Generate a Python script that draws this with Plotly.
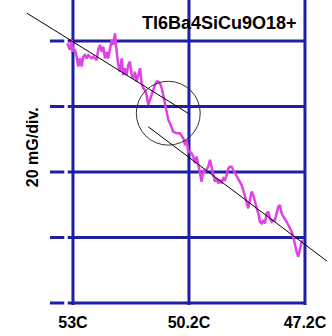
import plotly.graph_objects as go

# ---------------- data ----------------
tick_pos = [0, 1, 2]
tick_labels = ["53C", "50.2C", "47.2C"]
grid_levels = [0, 20, 40, 60, 80]          # mG, 20 mG/div

x_div = [-0.049, -0.026, -0.011, 0.003, 0.017, 0.032, 0.046, 0.060, 0.075, 0.089,
         0.103, 0.118, 0.132, 0.161, 0.175, 0.204, 0.218, 0.233, 0.247, 0.261,
         0.276, 0.291, 0.304, 0.319, 0.334, 0.347, 0.362, 0.377, 0.391, 0.405,
         0.420, 0.434, 0.448, 0.463, 0.477, 0.491, 0.506, 0.520, 0.534, 0.549,
         0.563, 0.578, 0.592, 0.606, 0.621, 0.635, 0.649, 0.664, 0.678, 0.692,
         0.707, 0.722, 0.735, 0.750, 0.765, 0.778, 0.793, 0.808, 0.822, 0.836,
         0.851, 0.865, 0.894, 0.922, 0.951, 0.966, 0.980, 0.994, 1.009, 1.023,
         1.037, 1.052, 1.066, 1.080, 1.095, 1.109, 1.123, 1.138, 1.153, 1.166,
         1.181, 1.196, 1.209, 1.224, 1.239, 1.253, 1.267, 1.282, 1.296, 1.310,
         1.325, 1.339, 1.353, 1.368, 1.382, 1.397, 1.411, 1.425, 1.440, 1.454,
         1.468, 1.483, 1.497, 1.511, 1.526, 1.540, 1.554, 1.569, 1.584, 1.598,
         1.612, 1.627, 1.641, 1.655, 1.670, 1.684, 1.698, 1.713, 1.727, 1.741,
         1.756, 1.770, 1.784, 1.799, 1.813, 1.828, 1.842, 1.856, 1.871, 1.885,
         1.899, 1.914, 1.928, 1.942, 1.957, 1.972, 1.985]
signal_mG = [79.3, 77.3, 80.3, 76.7, 77.3, 75.2, 72.2, 74.7, 72.2, 75.2,
             75.7, 74.7, 75.7, 74.7, 75.2, 74.2, 77.3, 78.8, 76.7, 78.3,
             74.7, 76.7, 74.7, 77.3, 80.3, 78.8, 82.3, 76.7, 72.7, 70.6,
             74.7, 69.6, 71.7, 69.6, 72.7, 73.7, 69.6, 68.6, 70.6, 67.6,
             70.1, 71.7, 67.1, 65.6, 65.0, 63.5, 60.5, 62.0, 64.0, 65.0,
             66.6, 67.6, 67.6, 67.1, 65.6, 63.5, 61.0, 57.9, 55.9, 54.9,
             53.3, 52.3, 51.8, 51.8, 50.3, 48.2, 49.8, 46.2, 46.2, 45.7,
             44.7, 42.7, 44.7, 41.6, 39.6, 37.0, 40.6, 40.1, 41.1, 41.6,
             43.7, 41.6, 39.1, 37.0, 38.1, 36.5, 37.6, 36.5, 38.1, 37.6,
             39.1, 41.1, 41.6, 41.6, 40.6, 39.6, 38.6, 37.6, 36.5, 36.0,
             34.5, 32.5, 30.9, 28.9, 31.5, 34.0, 33.0, 30.4, 28.9, 27.4,
             24.8, 24.3, 25.3, 24.3, 27.4, 27.9, 25.9, 24.8, 25.3, 25.3,
             27.4, 29.4, 29.9, 27.4, 26.4, 25.3, 24.8, 23.8, 22.8, 21.8,
             20.2, 17.2, 15.7, 14.1, 16.2, 18.7, 19.2]

fit_upper_x = [-0.397, 0.994]
fit_upper_y = [88.5, 57.9]
fit_lower_x = [0.649, 2.190]
fit_lower_y = [53.8, 12.8]

jump_circle_x = [0.546, 1.097]
jump_circle_y = [48.2, 67.7]

title_text = "Tl6Ba4SiCu9O18+"
y_label = "20 mG/div."

# ---------------- styles ----------------
BLUE = "#1e1ea6"
MAGENTA = "#e040e6"
FONT = "Liberation Sans, Arial, sans-serif"

x_range = [-0.629, 2.233]
y_range = [-0.61, 92.52]

fig = go.Figure()

# vertical grid lines
vx, vy = [], []
for t in tick_pos:
    vx += [t, t, None]
    vy += [-2, 100, None]
fig.add_trace(go.Scatter(x=vx, y=vy, mode="lines",
                         line=dict(color=BLUE, width=3), hoverinfo="skip"))

# horizontal grid lines (with a small break on the left)
hx, hy = [], []
for g in grid_levels:
    hx += [-0.198, -0.075, None, -0.045, tick_pos[-1] + 0.01, None]
    hy += [g, g, None, g, g, None]
fig.add_trace(go.Scatter(x=hx, y=hy, mode="lines",
                         line=dict(color=BLUE, width=3), hoverinfo="skip"))

# signal
fig.add_trace(go.Scatter(x=x_div, y=signal_mG, mode="lines",
                         line=dict(color=MAGENTA, width=2.5)))

# fitted lines
fig.add_trace(go.Scatter(x=fit_upper_x, y=fit_upper_y, mode="lines",
                         line=dict(color="black", width=1)))
fig.add_trace(go.Scatter(x=fit_lower_x, y=fit_lower_y, mode="lines",
                         line=dict(color="black", width=1)))

fig.add_shape(type="circle", xref="x", yref="y",
              x0=jump_circle_x[0], x1=jump_circle_x[1],
              y0=jump_circle_y[0], y1=jump_circle_y[1],
              line=dict(color="#333333", width=1))

fig.add_annotation(x=1.267, y=85.5, xref="x", yref="y", text=title_text,
                   showarrow=False, xanchor="center", yanchor="middle",
                   font=dict(family=FONT, size=18, color="black", weight="bold"))
fig.add_annotation(x=-0.353, y=47.6, xref="x", yref="y", text=y_label,
                   showarrow=False, textangle=-90, xanchor="center", yanchor="middle",
                   font=dict(family=FONT, size=16, color="black", weight="bold"))

fig.update_layout(
    width=332, height=336,
    margin=dict(l=0, r=0, t=0, b=31, pad=0),
    paper_bgcolor="white", plot_bgcolor="white",
    showlegend=False,
    xaxis=dict(range=x_range, showgrid=False, zeroline=False, showline=False,
               tickmode="array", tickvals=tick_pos, ticktext=tick_labels,
               ticks="", ticklabelstandoff=6,
               tickfont=dict(family=FONT, size=16, color="black", weight="bold")),
    yaxis=dict(range=y_range, showgrid=False, zeroline=False, showline=False,
               showticklabels=False, ticks=""),
)

fig.write_html("out.html",
               config={"displayModeBar": False},
               post_script="document.body.style.margin='0';"
                           "document.body.style.overflow='hidden';")
